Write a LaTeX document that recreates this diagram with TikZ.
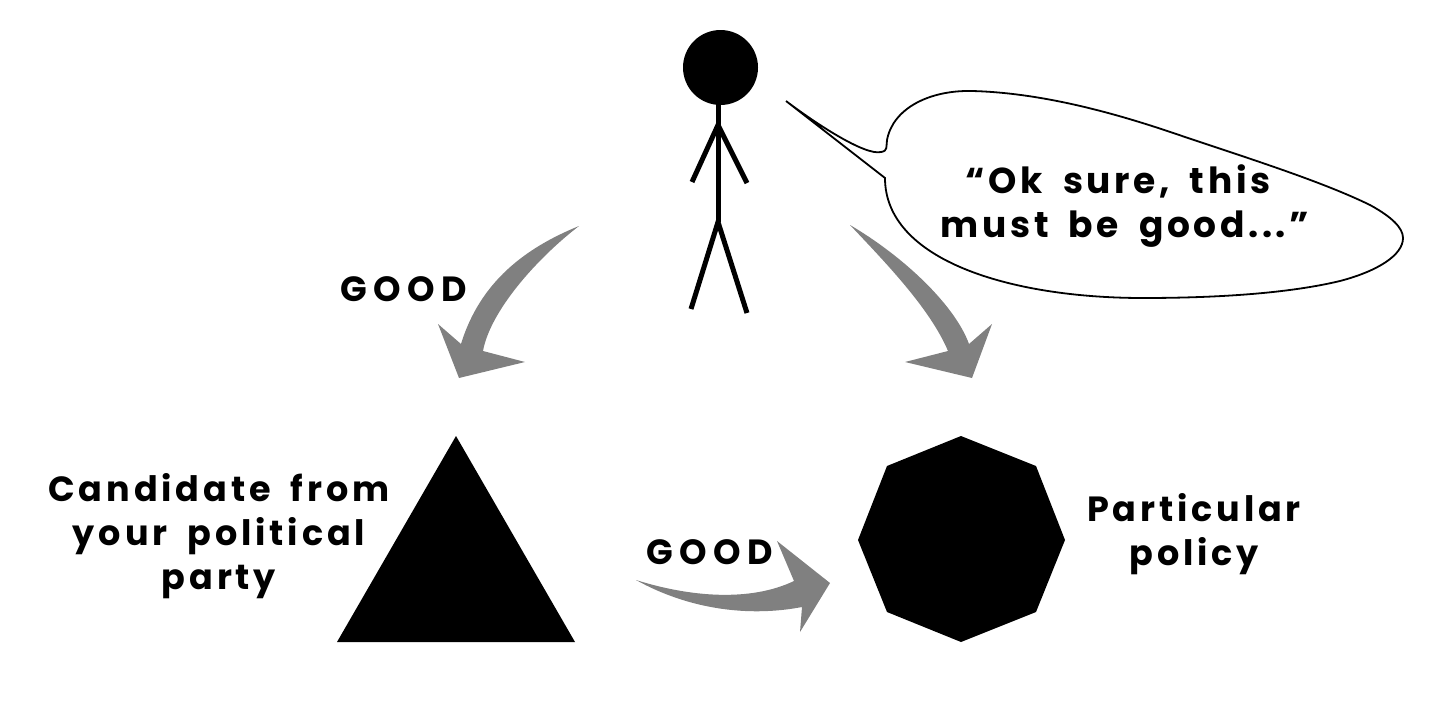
\documentclass[tikz,border=0pt]{standalone}
\usepackage{fontspec}
\setmainfont{Poppins}[Scale=1,LetterSpace=11,WordSpace=1.8,UprightFont={* Bold}]
\newfontfamily\goodfont{Poppins}[LetterSpace=18,UprightFont={* Bold}]
\newfontfamily\quotefont{Poppins}[LetterSpace=10,WordSpace=1.8,UprightFont={* Bold}]
\tikzset{
  px/.style={x=1pt,y=-1pt},
  solidshape/.style={fill=black,draw=none},
  greyarrow/.style={fill=black!50,draw=none},
  limb/.style={draw=black,line width=5pt},
  bubble/.style={draw=black,line width=1.8pt,fill=white},
  lab/.style={font=\fontsize{35}{44}\selectfont,align=center,inner sep=0pt,text=black},
  goodlab/.style={font=\fontsize{35}{44}\selectfont\goodfont,align=center,inner sep=0pt,text=black},
  quotelab/.style={font=\fontsize{36}{44}\selectfont\quotefont,align=center,inner sep=0pt,text=black}
}
\begin{document}
\begin{tikzpicture}[px]
\useasboundingbox (0,0) rectangle (1440,707);
% stick figure
\fill (720.5,67.5) circle (37.5);
\coordinate (neck) at (718,100);
\coordinate (shoulder) at (718,125);
\coordinate (hip) at (718,222);
\coordinate (handL) at (692,182);
\coordinate (handR) at (747,183);
\coordinate (footL) at (691,309);
\coordinate (footR) at (747,313);
\draw[limb] (neck) -- (hip);
\draw[limb] (handL) -- (shoulder) -- (handR);
\draw[limb] (footL) -- (hip) -- (footR);
% bubble
\draw[bubble,line join=miter,miter limit=20] (786,101)
  .. controls (815,123) and (865,156) .. (881,152)
  .. controls (888,151) and (886,147) .. (887,140)
  .. controls (893,108) and (930,90) .. (972,91)
  .. controls (1050,93) and (1130,118) .. (1185,137)
  .. controls (1260,162) and (1325,183) .. (1370,205)
  .. controls (1392,217) and (1403,228) .. (1403,238)
  .. controls (1403,255) and (1378,271) .. (1340,281)
  .. controls (1290,293) and (1220,298) .. (1143,298)
  .. controls (1010,298) and (885,260) .. (885,178)
  -- cycle;
% arrows
\fill[greyarrow] (579,226)
  .. controls (525,248) and (480,282) .. (461,344)
  -- (438,324) -- (459,378) -- (525,362) -- (483,351)
  .. controls (490,312) and (535,260) .. (579,226) -- cycle;
\fill[greyarrow] (850,225)
  .. controls (903,256) and (955,305) .. (969,344)
  -- (992,324) -- (972,378) -- (905,362) -- (948,351)
  .. controls (930,308) and (883,260) .. (850,225) -- cycle;
\fill[greyarrow] (636,580)
  .. controls (690,597) and (750,602) .. (794,581)
  -- (777,541) -- (830,583) -- (800,632) -- (802,607)
  .. controls (750,617) and (690,610) .. (636,580) -- cycle;
% shapes
\fill[solidshape] (456,436) -- (575,642) -- (337,642) -- cycle;
\fill[solidshape] (961,436) -- (1036,466) -- (1065,540) -- (1036,612) -- (961,642) -- (887,612) -- (858,540) -- (887,466) -- cycle;
% labels
\node[goodlab] (good1) at (404,289) {GOOD};
\node[goodlab] (good2) at (710,552) {GOOD};
\node[lab] (cand) at (219,536) {Candidate from\\your political\\party};
\node[lab] (pol) at (1194,534) {Particular\\policy};
\node[quotelab] (quote) at (1125,206) {“Ok sure, this\hspace*{14pt}\\must be good...”};
\end{tikzpicture}
\end{document}
